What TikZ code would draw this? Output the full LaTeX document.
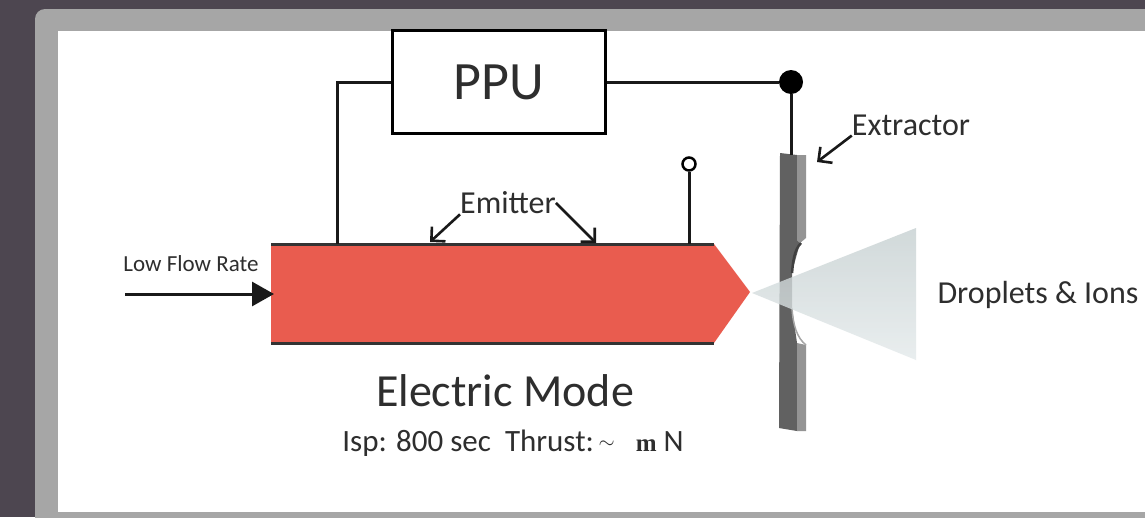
\documentclass[tikz,border=0pt]{standalone}
\usepackage{fontspec}
\setmainfont{Carlito}
\newfontfamily\serifm{Liberation Serif}
\usetikzlibrary{positioning, arrows.meta}

\definecolor{slide}{HTML}{4D4650}
\definecolor{frame}{HTML}{A6A6A6}
\definecolor{plasma}{HTML}{E95C4F}
\definecolor{label}{HTML}{2E2E2E}
\definecolor{spraytop}{HTML}{C6D0D1}
\definecolor{spraymid}{HTML}{E6ECED}
\definecolor{spraybot}{HTML}{E4EAEB}

\tikzset{
    wire/.style={line width=3pt, black!90},
    pointer/.style={-{Straight Barb[length=10pt, width=20pt, line width=2.6pt]}, line width=2.6pt, black!90},
    tag/.style={text=label, inner sep=0pt},
}

\begin{document}
\begin{tikzpicture}[x=1pt, y=-1pt]
    \useasboundingbox (0,0) rectangle (1145,517);
    \fill[slide] (0,0) rectangle (1145,517);
    \fill[frame, rounded corners=10pt] (35,9) rectangle (1175,540);
    \fill[white] (58,31) rectangle (1145,512);

    % thruster body
    \fill[plasma] (271,244) -- (714,244) -- (750,292) -- (714,343) -- (271,343) -- cycle;
    \coordinate (bodytopl) at (271,244);
    \coordinate (bodytopr) at (714,244);
    \coordinate (bodybotl) at (271,343);
    \coordinate (bodybotr) at (714,343);
    \coordinate (inlet) at (274,294);
    \coordinate (feed) at (125,294);
    \coordinate (tapl) at (337,244);
    \coordinate (tapr) at (689,244);
    \draw[line width=3pt, black!80] (bodytopl) -- (bodytopr);
    \draw[line width=3pt, black!80] (bodybotl) -- (bodybotr);

    % extractor plate
    \fill[black!62] (780,153) -- (797,155) -- (797,240) -- (800,243) -- (792,272) -- (792,308) -- (797,343) -- (797,431) -- (779,428) -- cycle;
    \fill[black!42] (797,155) -- (806,155) -- (806,238) -- (800,243) -- (797,240) -- cycle;
    \fill[black!42] (797,343) -- (806,345) -- (806,431) -- (797,431) -- cycle;
    \draw[line width=2.5pt, black!75] (801,243) .. controls (794,250) and (793,262) .. (792,273);
    \draw[line width=1.5pt, black!35] (792,308) .. controls (793,325) and (797,338) .. (806,345);

    % spray
    \shade[top color=spraytop, middle color=spraymid, bottom color=spraybot, opacity=.8] (752,293) -- (916,228) -- (916,360) -- cycle;

    \node[draw, line width=2.5pt, fill=white, minimum width=213pt, minimum height=103pt, inner sep=0pt, font=\fontsize{54}{54}\selectfont, text=label] (ppu) at (499,82) {PPU};
    \node[circle, fill=black, inner sep=0pt, minimum size=24pt] (joint) at (791,82) {};
    \node[circle, draw, line width=2.5pt, fill=white, inner sep=0pt, minimum size=13pt] (pin) at (689,164) {};
    \coordinate (plate) at (791,155);

    \draw[wire] (ppu.west) -- (337,82) -- (tapl);
    \draw[wire] (ppu.east) -- (joint);
    \draw[wire] (joint) -- (plate);
    \draw[wire] (pin) -- (tapr);
    \draw[-{Triangle[length=22pt, width=24pt]}, line width=3pt, black!90] (feed) -- (inlet);

    \node[tag, font=\fontsize{23}{23}\selectfont] (flow) at (191,264) {Low Flow Rate};
    \node[tag, font=\fontsize{32}{32}\selectfont] (emitter) at (508,203) {Emitter};
    \node[tag, font=\fontsize{32}{32}\selectfont] (extractor) at (911,125) {Extractor};
    \node[tag, font=\fontsize{32}{32}\selectfont] (spray) at (1038,295) {Droplets \& Ions};
    \node[tag, font=\fontsize{46}{46}\selectfont] (mode) at (505,391) {Electric Mode};
    \node[tag, font=\fontsize{31}{31}\selectfont, below=22pt of mode.south, xshift=8pt] (specs) {Isp: 800 sec\ \ Thrust:\raisebox{3pt}{\fontsize{21}{21}\selectfont\ $\sim$}\ \ \ {\serifm\bfseries\fontsize{25}{25}\selectfont m} N};

    \path[pointer]
        (emitter.south west) edge (430,242)
        (emitter.east) edge (596,243)
        (extractor.south west) edge (817,162);
\end{tikzpicture}
\end{document}
